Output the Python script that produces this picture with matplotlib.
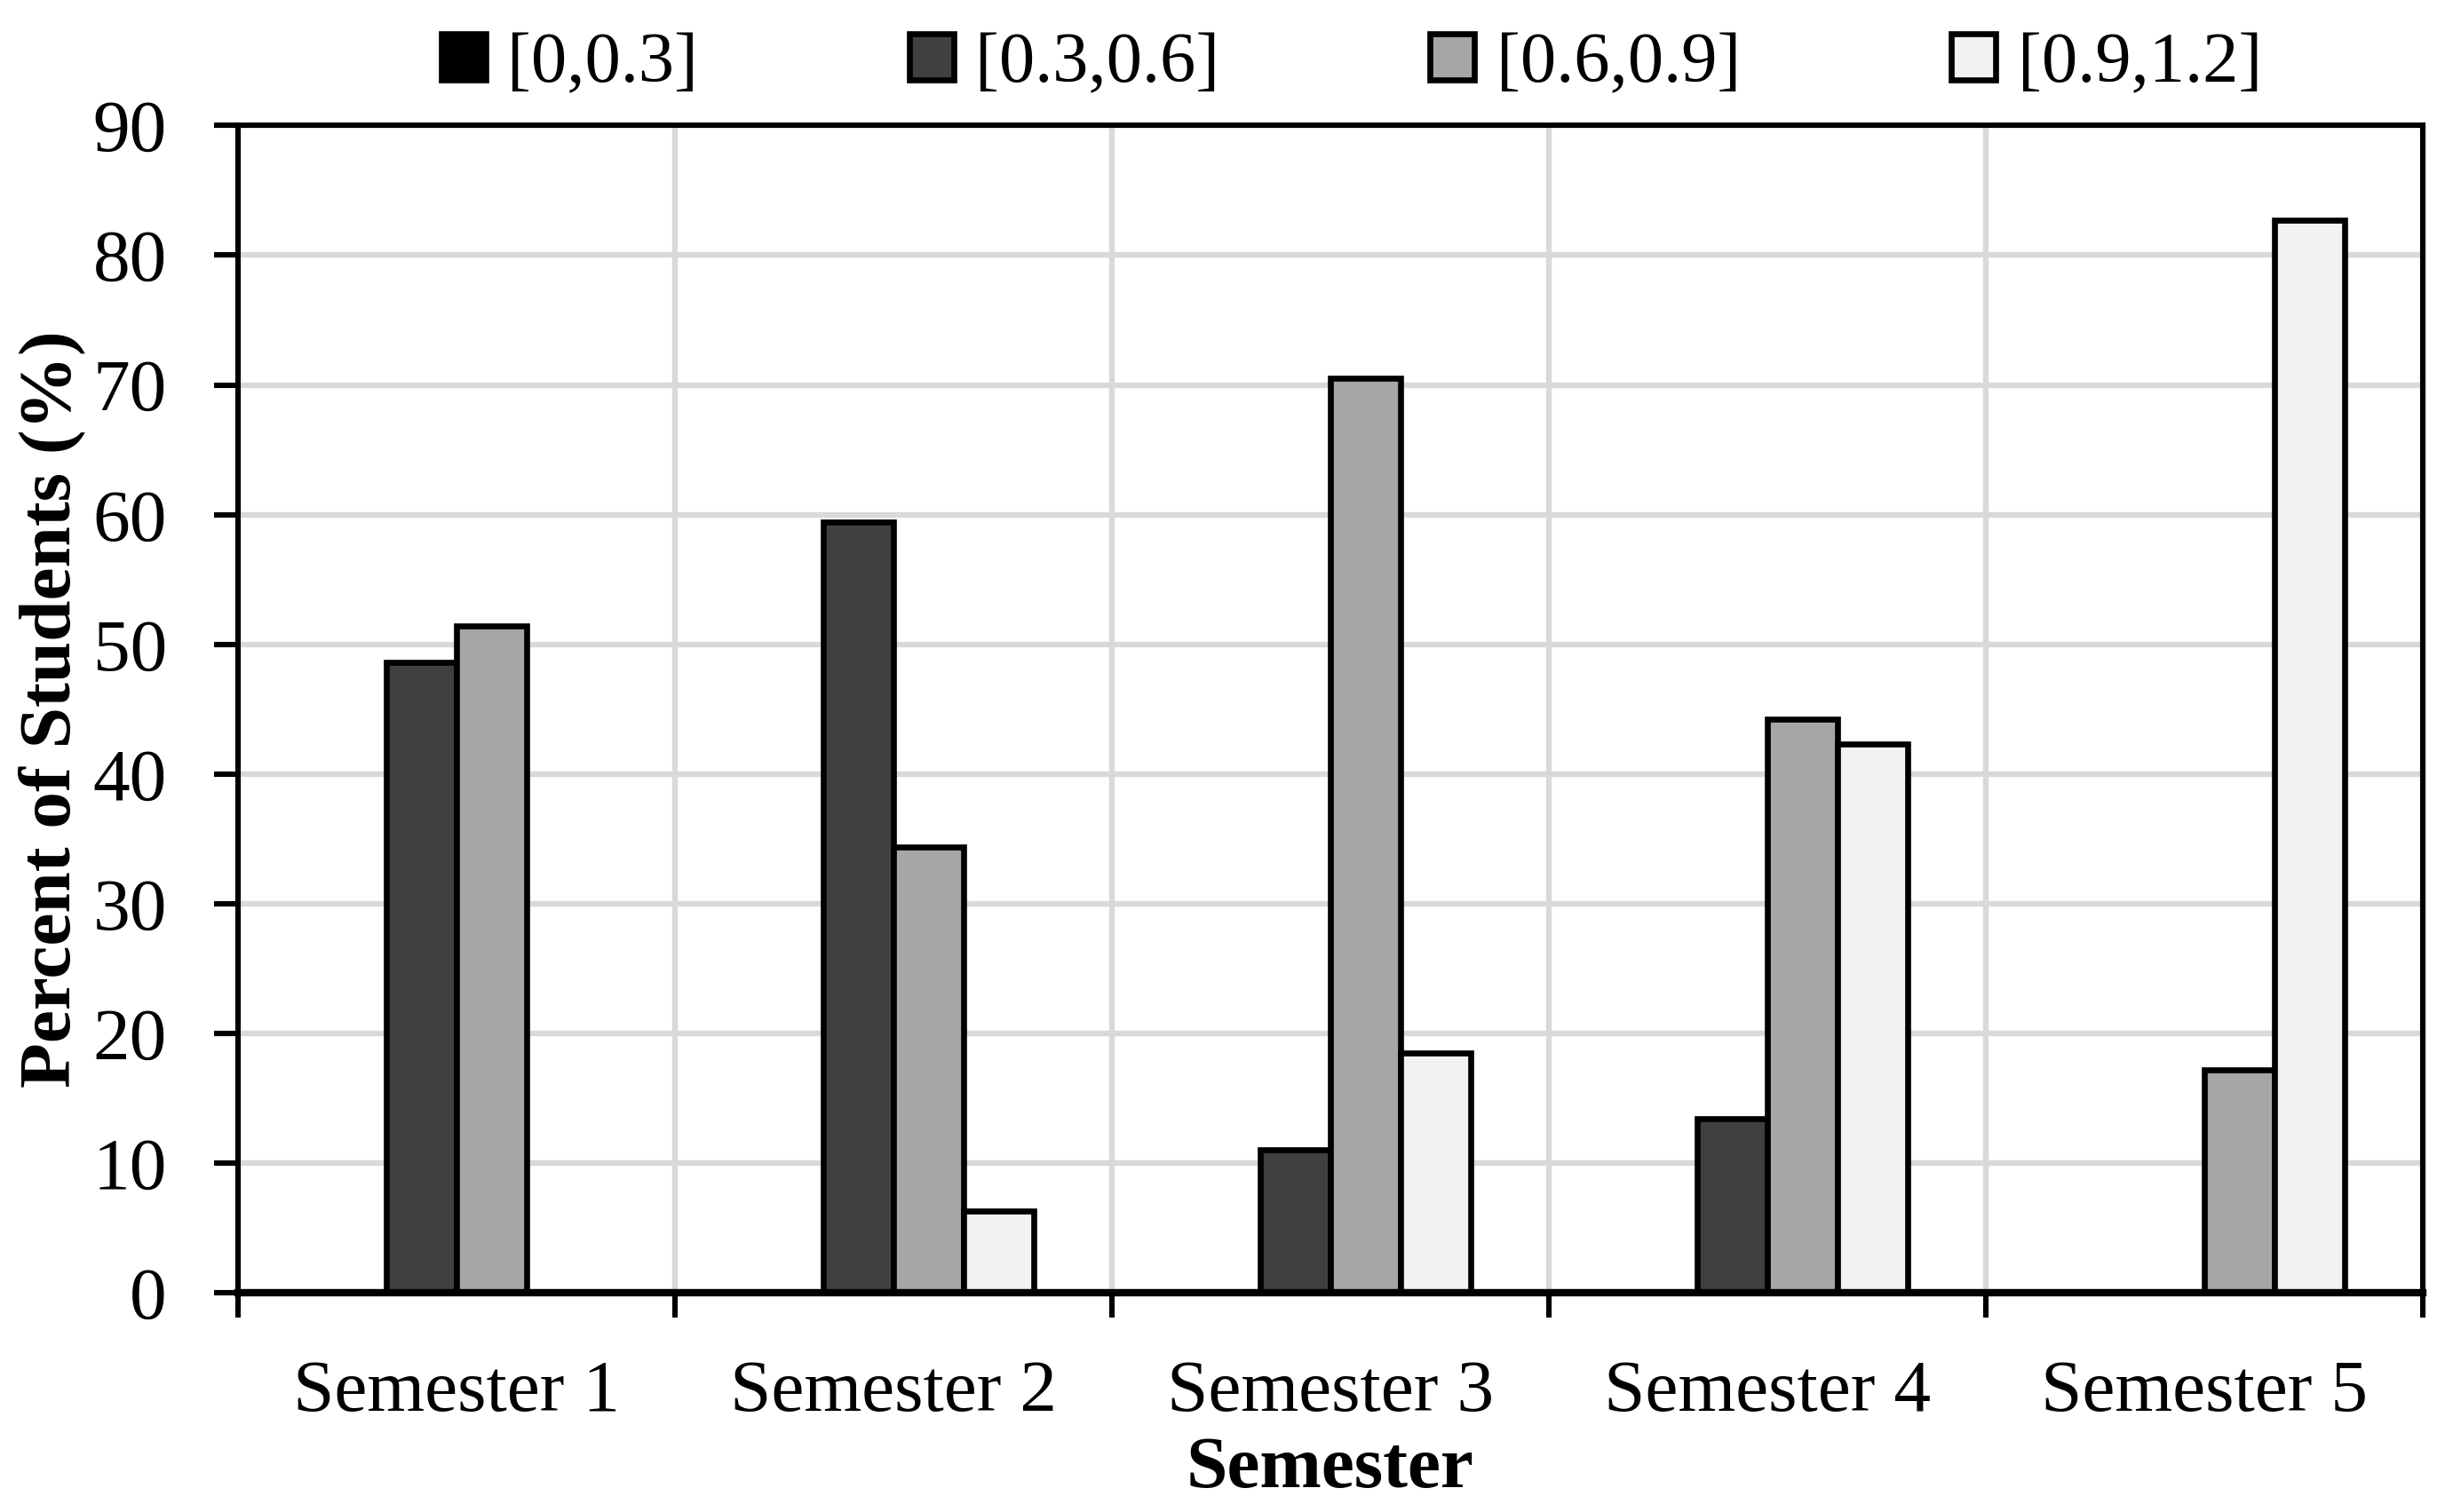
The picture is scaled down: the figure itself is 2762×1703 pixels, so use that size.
import matplotlib
matplotlib.use("Agg")
import matplotlib.pyplot as plt
import numpy as np

categories = ["Semester 1", "Semester 2", "Semester 3", "Semester 4", "Semester 5"]
series_names = ["[0,0.3]", "[0.3,0.6]", "[0.6,0.9]", "[0.9,1.2]"]
s_0_03 = [0, 0, 0, 0, 0]
s_03_06 = [48.6, 59.4, 11.0, 13.4, 0]
s_06_09 = [51.4, 34.4, 70.5, 44.2, 17.2]
s_09_12 = [0, 6.3, 18.5, 42.3, 82.7]
series = [s_0_03, s_03_06, s_06_09, s_09_12]
colors = ["#000000", "#404040", "#a6a6a6", "#f2f2f2"]
yticks = [0, 10, 20, 30, 40, 50, 60, 70, 80, 90]

plt.rcParams['font.family'] = ['Liberation Serif', 'DejaVu Serif']

fig = plt.figure(figsize=(13.81, 8.515), dpi=200)
ax = fig.add_axes([0.097, 0.145, 0.8907, 0.772])

x = np.arange(len(categories))
bw = 0.161
handles = []
for i, (vals, c, name) in enumerate(zip(series, colors, series_names)):
    b = ax.bar(x + (i - 1.5) * bw, vals, width=bw, color=c, edgecolor="black",
               linewidth=2.4, label=name, zorder=3)
    handles.append(b)

ax.set_xlim(-0.5, len(categories) - 0.5)
ax.set_ylim(0, 90)
ax.set_yticks(yticks)
ax.set_yticklabels([str(t) for t in yticks])
ax.set_xticks(x)
ax.set_xticklabels(categories)
ax.set_xticks(np.arange(len(categories) + 1) - 0.5, minor=True)

ax.tick_params(axis='y', which='major', direction='out', length=9.8, width=2.2,
               labelsize=30, pad=19)
ax.tick_params(axis='x', which='major', length=0, labelsize=30, pad=27)
ax.tick_params(axis='x', which='minor', direction='out', length=10, width=2.2)

ax.grid(axis='y', which='major', color='#d9d9d9', linewidth=2.3, zorder=0)
ax.grid(axis='x', which='minor', color='#d9d9d9', linewidth=2.3, zorder=0)
ax.set_axisbelow(True)

for side in ['left', 'top', 'right']:
    ax.spines[side].set_linewidth(2.2)
ax.spines['bottom'].set_linewidth(3.0)
ax.spines['bottom'].set_zorder(5)

ax.set_ylabel("Percent of Students (%)", fontsize=30, fontweight='bold', labelpad=3)
ax.set_xlabel("Semester", fontsize=30, fontweight='bold', labelpad=4)

leg = fig.legend(handles=handles, labels=series_names, loc='center',
                 bbox_to_anchor=(0.551, 0.957), ncol=4, frameon=False,
                 fontsize=29, handlelength=0.62, handleheight=0.62,
                 handletextpad=0.3, columnspacing=2.95, borderpad=0)

fig.savefig("out.png", dpi=200)
